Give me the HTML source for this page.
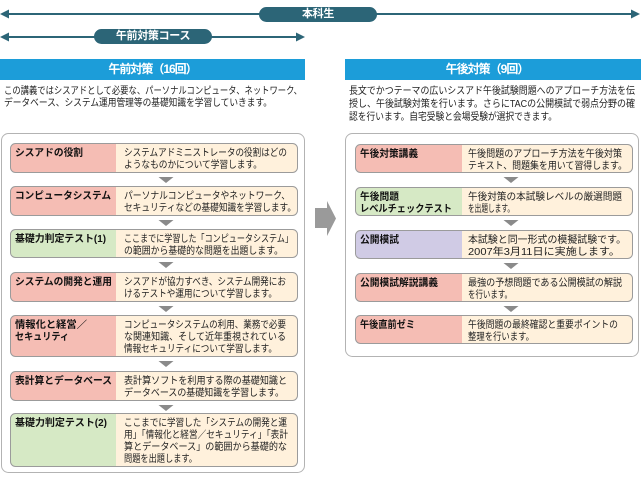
<!DOCTYPE html>
<html><head><meta charset="utf-8">
<style>
html,body{margin:0;padding:0;}
body{width:641px;height:478px;position:relative;background:#fff;overflow:hidden;font-family:"Liberation Sans","Noto Sans CJK JP",sans-serif;color:#222;}
.hdr{position:absolute;background:#1c9dd9;color:#fff;font-weight:bold;font-size:12px;letter-spacing:-1px;line-height:21px;white-space:nowrap;}
.pill{position:absolute;background:#2c6577;color:#fff;font-weight:bold;font-size:11px;letter-spacing:-0.3px;line-height:15px;text-align:center;border-radius:8px;white-space:nowrap;}
svg{position:absolute;left:0;top:0;}
svg text{font-family:"Liberation Sans","Noto Sans CJK JP",sans-serif;}
.d{font-size:10px;fill:#222;}
.b{font-size:10px;font-weight:bold;fill:#111;}
</style></head>
<body>

<svg width="641" height="478" viewBox="0 0 641 478">
  <line x1="7" y1="14" x2="633" y2="14" stroke="#2c6577" stroke-width="2"/>
  <polygon points="0,14 9,9.5 9,18.5" fill="#2c6577"/>
  <polygon points="640,14 631,9.5 631,18.5" fill="#2c6577"/>
  <line x1="7" y1="37" x2="298" y2="37" stroke="#2c6577" stroke-width="2"/>
  <polygon points="0,37 9,32.5 9,41.5" fill="#2c6577"/>
  <polygon points="305,37 296,32.5 296,41.5" fill="#2c6577"/>
</svg>

<div class="pill" style="left:259px;top:7px;width:118px;height:15px;">本科生</div>
<div class="pill" style="left:94px;top:29px;width:118px;height:15px;">午前対策コース</div>

<div class="hdr" style="left:0;top:59px;width:305px;height:21px;text-align:center;">午前対策（16回）</div>
<div class="hdr" style="left:345px;top:59px;width:296px;height:21px;"><span style="position:absolute;left:0;width:284px;text-align:center;">午後対策（9回）</span></div>

<svg width="641" height="478" viewBox="0 0 641 478">
  <!-- paragraphs -->
  <text class="d" x="4" y="93.8" textLength="298" lengthAdjust="spacingAndGlyphs">この講義ではシスアドとして必要な、パーソナルコンピュータ、ネットワーク、</text>
  <text class="d" x="4" y="105.8" textLength="268" lengthAdjust="spacingAndGlyphs">データベース、システム運用管理等の基礎知識を学習していきます。</text>
  <text class="d" x="349" y="93.8" textLength="286" lengthAdjust="spacingAndGlyphs">長文でかつテーマの広いシスアド午後試験問題へのアプローチ方法を伝</text>
  <text class="d" x="349" y="106.8" textLength="286" lengthAdjust="spacingAndGlyphs">授し、午後試験対策を行います。さらにTACの公開模試で弱点分野の確</text>
  <text class="d" x="349" y="119.8" textLength="208" lengthAdjust="spacingAndGlyphs">認を行います。自宅受験と会場受験が選択できます。</text>

  <!-- outer boxes -->
  <rect x="1.5" y="133.5" width="303" height="339" rx="7" fill="#fff" stroke="#b3b3b3"/>
  <rect x="345.5" y="133.5" width="293" height="223" rx="7" fill="#fff" stroke="#b3b3b3"/>

  <!-- left item backgrounds -->
  <g fill="#fff1dc">
    <rect x="10.5" y="143.5" width="287" height="29" rx="5"/>
    <rect x="10.5" y="186.5" width="287" height="29" rx="5"/>
    <rect x="10.5" y="229.5" width="287" height="28" rx="5"/>
    <rect x="10.5" y="272.5" width="287" height="29" rx="5"/>
    <rect x="10.5" y="315.5" width="287" height="41" rx="5"/>
    <rect x="10.5" y="371.5" width="287" height="29" rx="5"/>
    <rect x="10.5" y="413.5" width="287" height="53" rx="5"/>
    <rect x="355.5" y="144.5" width="277" height="28" rx="5"/>
    <rect x="355.5" y="187.5" width="277" height="28" rx="5"/>
    <rect x="355.5" y="230.5" width="277" height="28" rx="5"/>
    <rect x="355.5" y="273.5" width="277" height="28" rx="5"/>
    <rect x="355.5" y="315.5" width="277" height="28" rx="5"/>
  </g>
  <!-- label fills -->
  <path fill="#f5bdb4" d="M15.5,143.5H116V172.5H15.5A5,5 0 0 1 10.5,167.5V148.5A5,5 0 0 1 15.5,143.5Z"/>
  <path fill="#f5bdb4" d="M15.5,186.5H116V215.5H15.5A5,5 0 0 1 10.5,210.5V191.5A5,5 0 0 1 15.5,186.5Z"/>
  <path fill="#d6e9c5" d="M15.5,229.5H116V257.5H15.5A5,5 0 0 1 10.5,252.5V234.5A5,5 0 0 1 15.5,229.5Z"/>
  <path fill="#f5bdb4" d="M15.5,272.5H116V301.5H15.5A5,5 0 0 1 10.5,296.5V277.5A5,5 0 0 1 15.5,272.5Z"/>
  <path fill="#f5bdb4" d="M15.5,315.5H116V356.5H15.5A5,5 0 0 1 10.5,351.5V320.5A5,5 0 0 1 15.5,315.5Z"/>
  <path fill="#f5bdb4" d="M15.5,371.5H116V400.5H15.5A5,5 0 0 1 10.5,395.5V376.5A5,5 0 0 1 15.5,371.5Z"/>
  <path fill="#d6e9c5" d="M15.5,413.5H116V466.5H15.5A5,5 0 0 1 10.5,461.5V418.5A5,5 0 0 1 15.5,413.5Z"/>
  <path fill="#f5bdb4" d="M360.5,144.5H462V172.5H360.5A5,5 0 0 1 355.5,167.5V149.5A5,5 0 0 1 360.5,144.5Z"/>
  <path fill="#d6e9c5" d="M360.5,187.5H462V215.5H360.5A5,5 0 0 1 355.5,210.5V192.5A5,5 0 0 1 360.5,187.5Z"/>
  <path fill="#d0cbe5" d="M360.5,230.5H462V258.5H360.5A5,5 0 0 1 355.5,253.5V235.5A5,5 0 0 1 360.5,230.5Z"/>
  <path fill="#f5bdb4" d="M360.5,273.5H462V301.5H360.5A5,5 0 0 1 355.5,296.5V278.5A5,5 0 0 1 360.5,273.5Z"/>
  <path fill="#f5bdb4" d="M360.5,315.5H462V343.5H360.5A5,5 0 0 1 355.5,338.5V320.5A5,5 0 0 1 360.5,315.5Z"/>
  <!-- item borders -->
  <g fill="none" stroke="#9b9b9b">
    <rect x="10.5" y="143.5" width="287" height="29" rx="5"/>
    <rect x="10.5" y="186.5" width="287" height="29" rx="5"/>
    <rect x="10.5" y="229.5" width="287" height="28" rx="5"/>
    <rect x="10.5" y="272.5" width="287" height="29" rx="5"/>
    <rect x="10.5" y="315.5" width="287" height="41" rx="5"/>
    <rect x="10.5" y="371.5" width="287" height="29" rx="5"/>
    <rect x="10.5" y="413.5" width="287" height="53" rx="5"/>
    <rect x="355.5" y="144.5" width="277" height="28" rx="5"/>
    <rect x="355.5" y="187.5" width="277" height="28" rx="5"/>
    <rect x="355.5" y="230.5" width="277" height="28" rx="5"/>
    <rect x="355.5" y="273.5" width="277" height="28" rx="5"/>
    <rect x="355.5" y="315.5" width="277" height="28" rx="5"/>
  </g>

  <!-- left labels -->
  <text class="b" x="15" y="155.8" textLength="68" lengthAdjust="spacingAndGlyphs">シスアドの役割</text>
  <text class="b" x="15" y="198.8" textLength="96" lengthAdjust="spacingAndGlyphs">コンピュータシステム</text>
  <text class="b" x="15" y="241.8" textLength="91" lengthAdjust="spacingAndGlyphs">基礎力判定テスト(1)</text>
  <text class="b" x="15" y="284.8" textLength="97" lengthAdjust="spacingAndGlyphs">システムの開発と運用</text>
  <text class="b" x="15" y="327.8" textLength="72" lengthAdjust="spacingAndGlyphs">情報化と経営／</text>
  <text class="b" x="15" y="339.8" textLength="54" lengthAdjust="spacingAndGlyphs">セキュリティ</text>
  <text class="b" x="15" y="383.8" textLength="97" lengthAdjust="spacingAndGlyphs">表計算とデータベース</text>
  <text class="b" x="15" y="425.8" textLength="92" lengthAdjust="spacingAndGlyphs">基礎力判定テスト(2)</text>

  <!-- left descriptions -->
  <text class="d" x="124" y="155.8" textLength="163" lengthAdjust="spacingAndGlyphs">システムアドミニストレータの役割はどの</text>
  <text class="d" x="124" y="167.8" textLength="138" lengthAdjust="spacingAndGlyphs">ようなものかについて学習します。</text>
  <text class="d" x="124" y="198.8" textLength="166" lengthAdjust="spacingAndGlyphs">パーソナルコンピュータやネットワーク、</text>
  <text class="d" x="124" y="210.8" textLength="172" lengthAdjust="spacingAndGlyphs">セキュリティなどの基礎知識を学習します。</text>
  <text class="d" x="124" y="241.8" textLength="169" lengthAdjust="spacingAndGlyphs">ここまでに学習した「コンピュータシステム」</text>
  <text class="d" x="124" y="253.8" textLength="159" lengthAdjust="spacingAndGlyphs">の範囲から基礎的な問題を出題します。</text>
  <text class="d" x="124" y="284.8" textLength="162" lengthAdjust="spacingAndGlyphs">シスアドが協力すべき、システム開発にお</text>
  <text class="d" x="124" y="296.8" textLength="153" lengthAdjust="spacingAndGlyphs">けるテストや運用について学習します。</text>
  <text class="d" x="124" y="327.8" textLength="162" lengthAdjust="spacingAndGlyphs">コンピュータシステムの利用、業務で必要</text>
  <text class="d" x="124" y="339.8" textLength="162" lengthAdjust="spacingAndGlyphs">な関連知識、そして近年重視されている</text>
  <text class="d" x="124" y="351.8" textLength="153" lengthAdjust="spacingAndGlyphs">情報セキュリティについて学習します。</text>
  <text class="d" x="124" y="383.8" textLength="163" lengthAdjust="spacingAndGlyphs">表計算ソフトを利用する際の基礎知識と</text>
  <text class="d" x="124" y="395.8" textLength="160" lengthAdjust="spacingAndGlyphs">データベースの基礎知識を学習します。</text>
  <text class="d" x="124" y="425.8" textLength="163" lengthAdjust="spacingAndGlyphs">ここまでに学習した「システムの開発と運</text>
  <text class="d" x="124" y="437.8" textLength="164" lengthAdjust="spacingAndGlyphs">用」「情報化と経営／セキュリティ」「表計</text>
  <text class="d" x="124" y="449.8" textLength="163" lengthAdjust="spacingAndGlyphs">算とデータベース」の範囲から基礎的な</text>
  <text class="d" x="124" y="461.8" textLength="73" lengthAdjust="spacingAndGlyphs">問題を出題します。</text>

  <!-- right labels -->
  <text class="b" x="360" y="156.8" textLength="58" lengthAdjust="spacingAndGlyphs">午後対策講義</text>
  <text class="b" x="360" y="199.8" textLength="39" lengthAdjust="spacingAndGlyphs">午後問題</text>
  <text class="b" x="360" y="211.8" textLength="92" lengthAdjust="spacingAndGlyphs">レベルチェックテスト</text>
  <text class="b" x="360" y="242.8" textLength="39" lengthAdjust="spacingAndGlyphs">公開模試</text>
  <text class="b" x="360" y="285.8" textLength="78" lengthAdjust="spacingAndGlyphs">公開模試解説講義</text>
  <text class="b" x="360" y="327.8" textLength="55" lengthAdjust="spacingAndGlyphs">午後直前ゼミ</text>

  <!-- right descriptions -->
  <text class="d" x="468" y="156.8" textLength="154" lengthAdjust="spacingAndGlyphs">午後問題のアプローチ方法を午後対策</text>
  <text class="d" x="468" y="168.8" textLength="159" lengthAdjust="spacingAndGlyphs">テキスト、問題集を用いて習得します。</text>
  <text class="d" x="468" y="199.8" textLength="154" lengthAdjust="spacingAndGlyphs">午後対策の本試験レベルの厳選問題</text>
  <text class="d" x="468" y="211.8" textLength="46" lengthAdjust="spacingAndGlyphs">を出題します。</text>
  <text class="d" x="468" y="242.8" textLength="158" lengthAdjust="spacingAndGlyphs">本試験と同一形式の模擬試験です。</text>
  <text class="d" x="468" y="254.8" textLength="152" lengthAdjust="spacingAndGlyphs">2007年3月11日に実施します。</text>
  <text class="d" x="468" y="285.8" textLength="154" lengthAdjust="spacingAndGlyphs">最強の予想問題である公開模試の解説</text>
  <text class="d" x="468" y="297.8" textLength="44" lengthAdjust="spacingAndGlyphs">を行います。</text>
  <text class="d" x="468" y="327.8" textLength="150" lengthAdjust="spacingAndGlyphs">午後問題の最終確認と重要ポイントの</text>
  <text class="d" x="468" y="339.8" textLength="66" lengthAdjust="spacingAndGlyphs">整理を行います。</text>

  <!-- down triangles -->
  <g fill="#8a8a8a">
    <polygon points="158.5,177 173.5,177 166,183"/>
    <polygon points="158.5,220 173.5,220 166,226"/>
    <polygon points="158.5,262 173.5,262 166,268"/>
    <polygon points="158.5,306 173.5,306 166,312"/>
    <polygon points="158.5,361 173.5,361 166,367"/>
    <polygon points="158.5,405 173.5,405 166,411"/>
    <polygon points="503.5,177 518.5,177 511,183"/>
    <polygon points="503.5,220 518.5,220 511,226"/>
    <polygon points="503.5,263 518.5,263 511,269"/>
    <polygon points="503.5,306 518.5,306 511,312"/>
  </g>
  <!-- big arrow -->
  <polygon points="315,208 327,208 327,201 336,218.5 327,236 327,228 315,228" fill="#9a9a9a"/>
</svg>

</body></html>
